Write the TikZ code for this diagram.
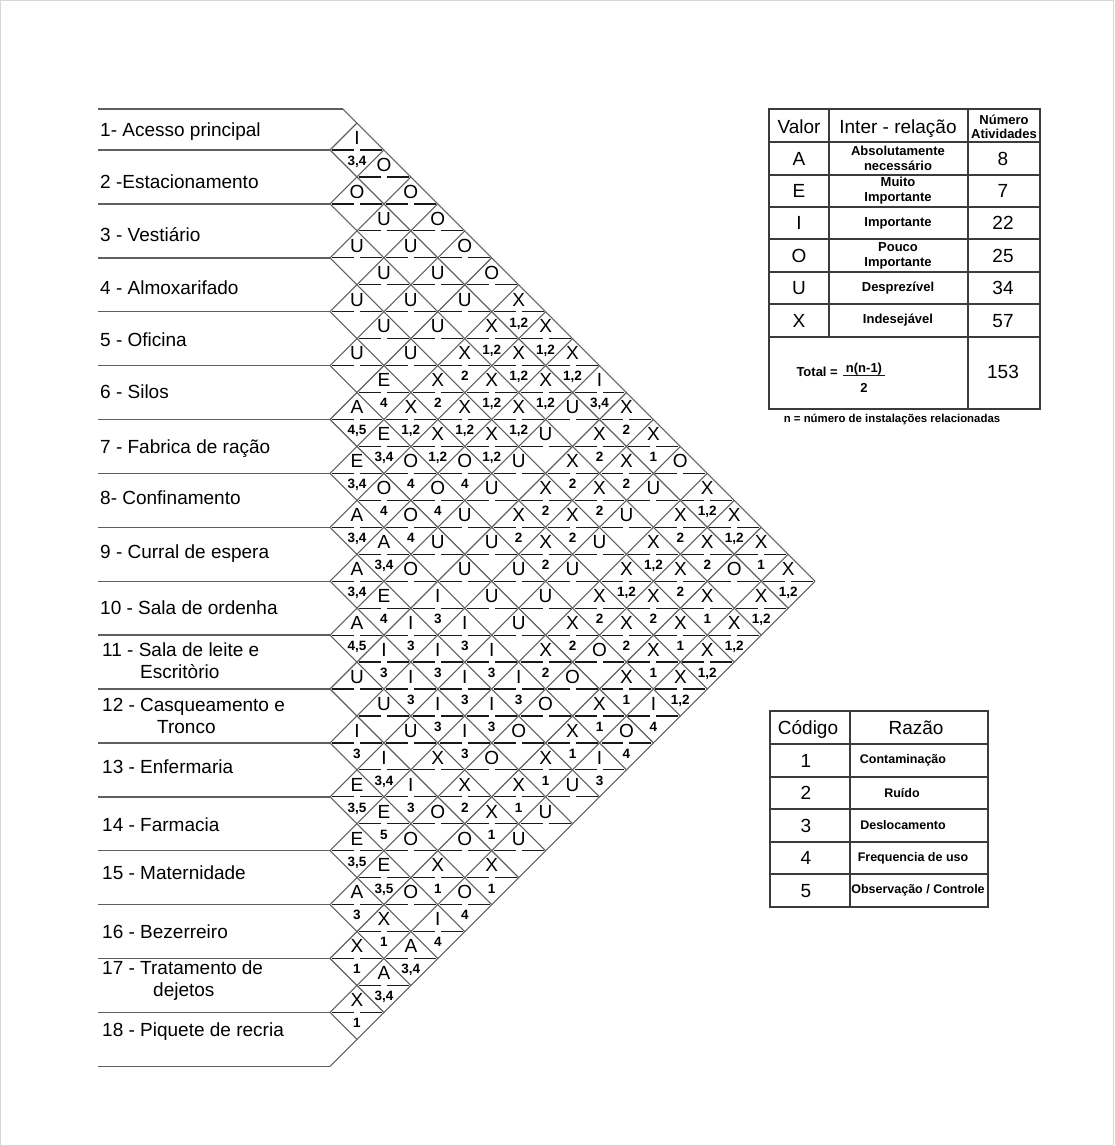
\documentclass[tikz,border=0pt]{standalone}
\usepackage{fontspec}
\setmainfont{Liberation Sans}
\usepackage{tikz}
\definecolor{gridgray}{RGB}{95,95,95}
\definecolor{inkdark}{RGB}{25,25,25}
\definecolor{framegray}{RGB}{215,215,215}

\begin{document}
\begin{tikzpicture}[x=1pt, y=-1pt,
  diag/.style={gridgray, line width=1.1pt},
  midline/.style={inkdark, line width=1.2pt},
  rowline/.style={gridgray, line width=1.4pt},
  tabline/.style={inkdark!85, line width=1.3pt},
  rel/.style={inner sep=0pt, text height=13.6pt, text depth=0pt, font=\fontsize{19}{19}\selectfont},
  why/.style={inner sep=0pt, text height=9.7pt, text depth=0pt, font=\bfseries\fontsize{13.5}{13.5}\selectfont},
  zone/.style={anchor=base west, inner sep=0pt, font=\fontsize{19}{22}\selectfont},
  head/.style={inner sep=0pt, text height=13.6pt, text depth=0pt, font=\fontsize{19}{19}\selectfont},
  note/.style={inner sep=0pt, align=center, font=\bfseries\fontsize{13}{15}\selectfont}]
  \useasboundingbox (0,0) rectangle (1114,1146);
  \draw[framegray, line width=1pt] (0.5,0.5) rectangle (1113.5,1145.5);

  \pgfmathsetmacro\hs{26.95} % half of a row
  \pgfmathsetmacro\xo{330}
  \pgfmathsetmacro\yo{96.1}

  % names of the areas
  \foreach \n/\y/\t in {1/136.8/1- Acesso principal, 2/188.8/2 -Estacionamento,
      3/241.8/3 - Vestiário, 4/294.8/4 - Almoxarifado, 5/346.8/5 - Oficina,
      6/398.8/6 - Silos, 7/453.8/7 - Fabrica de ração, 8/504.8/8- Confinamento,
      9/558.8/9 - Curral de espera, 10/614.8/10 - Sala de ordenha}
    \node[zone] (area\n) at (100,\y) {\t};
  \foreach \n/\y/\t in {11/656.8/11 - Sala de leite e, 12/711.8/12 - Casqueamento e,
      13/773.8/13 - Enfermaria, 14/831.8/14 - Farmacia, 15/879.8/15 - Maternidade,
      16/938.8/16 - Bezerreiro, 17/974.8/17 - Tratamento de, 18/1036.8/18 - Piquete de recria}
    \node[zone] (area\n) at (102,\y) {\t};
  \node[zone] (area11b) at (140,678.8) {Escritòrio};
  \node[zone] (area12b) at (157,733.8) {Tronco};
  \node[zone] (area17b) at (153,996.8) {dejetos};

  % row lines
  \draw[rowline] (98,109) -- ({\xo+109-\yo},109);
  \foreach \k in {1,...,18}
    \draw[rowline] (98,{\yo+2*\k*\hs}) -- (\xo,{\yo+2*\k*\hs});

  % diagonals of the diamonds
  \draw[diag] ({\xo+109-\yo},109) -- ({\xo+18*\hs},{\yo+18*\hs});
  \foreach \k in {1,...,17}
    \draw[diag] (\xo,{\yo+2*\k*\hs}) -- ++({(18-\k)*\hs},{(18-\k)*\hs});
  \foreach \k in {1,...,18}
    \draw[diag] (\xo,{\yo+2*\k*\hs}) -- ++({\k*\hs},{-\k*\hs});

  % value (top) and reason (bottom) of every pair
  \foreach \i/\j/\v/\r in {
      1/2/I/{3,4},
      1/3/O/{},
      2/3/O/{}, 1/4/O/{},
      2/4/U/{}, 1/5/O/{},
      3/4/U/{}, 2/5/U/{}, 1/6/O/{},
      3/5/U/{}, 2/6/U/{}, 1/7/O/{},
      4/5/U/{}, 3/6/U/{}, 2/7/U/{}, 1/8/X/{1,2},
      4/6/U/{}, 3/7/U/{}, 2/8/X/{1,2}, 1/9/X/{1,2},
      5/6/U/{}, 4/7/U/{}, 3/8/X/2, 2/9/X/{1,2}, 1/10/X/{1,2},
      5/7/E/4, 4/8/X/2, 3/9/X/{1,2}, 2/10/X/{1,2}, 1/11/I/{3,4},
      6/7/A/{4,5}, 5/8/X/{1,2}, 4/9/X/{1,2}, 3/10/X/{1,2}, 2/11/U/{}, 1/12/X/2,
      6/8/E/{3,4}, 5/9/X/{1,2}, 4/10/X/{1,2}, 3/11/U/{}, 2/12/X/2, 1/13/X/1,
      7/8/E/{3,4}, 6/9/O/4, 5/10/O/4, 4/11/U/{}, 3/12/X/2, 2/13/X/2, 1/14/O/{},
      7/9/O/4, 6/10/O/4, 5/11/U/{}, 4/12/X/2, 3/13/X/2, 2/14/U/{}, 1/15/X/{1,2},
      8/9/A/{3,4}, 7/10/O/4, 6/11/U/{}, 5/12/X/2, 4/13/X/2, 3/14/U/{}, 2/15/X/2, 1/16/X/{1,2},
      8/10/A/{3,4}, 7/11/U/{}, 6/12/U/{}, 5/13/X/2, 4/14/U/{}, 3/15/X/{1,2}, 2/16/X/2, 1/17/X/1,
      9/10/A/{3,4}, 8/11/O/{}, 7/12/U/{}, 6/13/U/{}, 5/14/U/{}, 4/15/X/{1,2}, 3/16/X/2, 2/17/O/{}, 1/18/X/{1,2},
      9/11/E/4, 8/12/I/3, 7/13/U/{}, 6/14/U/{}, 5/15/X/2, 4/16/X/2, 3/17/X/1, 2/18/X/{1,2},
      10/11/A/{4,5}, 9/12/I/3, 8/13/I/3, 7/14/U/{}, 6/15/X/2, 5/16/X/2, 4/17/X/1, 3/18/X/{1,2},
      10/12/I/3, 9/13/I/3, 8/14/I/3, 7/15/X/2, 6/16/O/{}, 5/17/X/1, 4/18/X/{1,2},
      11/12/U/{}, 10/13/I/3, 9/14/I/3, 8/15/I/3, 7/16/O/{}, 6/17/X/1, 5/18/X/{1,2},
      11/13/U/{}, 10/14/I/3, 9/15/I/3, 8/16/O/{}, 7/17/X/1, 6/18/I/4,
      12/13/I/3, 11/14/U/{}, 10/15/I/3, 9/16/O/{}, 8/17/X/1, 7/18/O/4,
      12/14/I/{3,4}, 11/15/X/{}, 10/16/O/{}, 9/17/X/1, 8/18/I/3,
      13/14/E/{3,5}, 12/15/I/3, 11/16/X/2, 10/17/X/1, 9/18/U/{},
      13/15/E/5, 12/16/O/{}, 11/17/X/1, 10/18/U/{},
      14/15/E/{3,5}, 13/16/O/{}, 12/17/O/{}, 11/18/U/{},
      14/16/E/{3,5}, 13/17/X/1, 12/18/X/1,
      15/16/A/3, 14/17/O/{}, 13/18/O/4,
      15/17/X/1, 14/18/I/4,
      16/17/X/1, 15/18/A/{3,4},
      16/18/A/{3,4},
      17/18/X/1} {
    \pgfmathsetmacro\ccx{\xo+(\j-\i)*\hs}
    \pgfmathsetmacro\ccy{\yo+(\i+\j-1)*\hs}
    \draw[midline] ({\ccx-\hs+2},\ccy) -- ({\ccx-3},\ccy) ({\ccx+3},\ccy) -- ({\ccx+\hs-2},\ccy);
    \node[rel] (p\i-\j) at (\ccx,{\ccy-12.5}) {\v};
    \node[why] (c\i-\j) at (\ccx,{\ccy+10.5}) {\r};
  }

  % table of values
  \draw[tabline] (769,109) rectangle (1040,409);
  \draw[tabline] (829,109) -- (829,337) (968,109) -- (968,409);
  \foreach \y in {142,175,207,239,272,304,337}
    \draw[tabline] (769,\y) -- (1040,\y);
  \node[head] (valor) at (799,127) {Valor};
  \node[head] (inter) at (898,127) {Inter - relação};
  \node[note, font=\bfseries\fontsize{13}{14}\selectfont] (numat) at (1004,127) {Número\\Atividades};
  \foreach \y/\v/\d/\n in {158.5/A/{Absolutamente\\necessário}/8, 191/E/{Muito\\Importante}/7,
      223/I/Importante/22, 255.5/O/{Pouco\\Importante}/25, 288/U/Desprezível/34,
      320.5/X/Indesejável/57} {
    \node[head] (val\v) at (799,\y) {\v};
    \node[note] (desc\v) at (898,\y) {\d};
    \node[head] (num\v) at (1003,\y) {\n};
  }
  \node[note, anchor=east] (total) at (838,372) {Total =};
  \node[note] (frnum) at (864,369) {n(n-1)};
  \node[note] (frden) at (864,388) {2};
  \draw[inkdark, line width=1.2pt] ([xshift=-3pt]frnum.south west) -- ([xshift=3pt]frnum.south east);
  \node[head] (tot) at (1003,372) {153};
  \node[inner sep=0pt, font=\bfseries\fontsize{11.4}{12}\selectfont] (caption) at (892,419) {n = número de instalações relacionadas};

  % table of reasons
  \draw[tabline] (770,711) rectangle (988,907);
  \draw[tabline] (850,711) -- (850,907);
  \foreach \y in {744,777,809,842,874}
    \draw[tabline] (770,\y) -- (988,\y);
  \node[head] (codigo) at (808,728) {Código};
  \node[head] (razao) at (916,728) {Razão};
  \foreach \n/\y/\x/\t in {1/760.5/903/Contaminação, 2/793/902/Ruído, 3/825.5/903/Deslocamento,
      4/858/913/Frequencia de uso, 5/890.5/918/{Observação / Controle}} {
    \node[head] (cod\n) at (806,\y) {\n};
    \node[note, font=\bfseries\fontsize{12.5}{14}\selectfont] (raz\n) at (\x,\y) {\t};
  }
\end{tikzpicture}
\end{document}
